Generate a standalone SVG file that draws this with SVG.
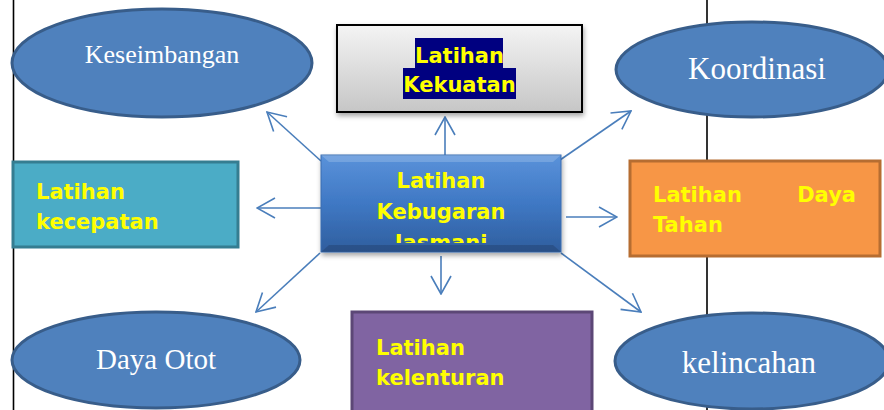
<svg xmlns="http://www.w3.org/2000/svg" width="884" height="410" viewBox="0 0 884 410">
<defs>
<style>
.ell{fill:#4F81BD;stroke:#385D8A;stroke-width:3}
.etx{font-family:"Liberation Serif","Times New Roman",serif;fill:#FFFFFF;text-anchor:middle}
.btx{font-family:"DejaVu Sans",Verdana,sans-serif;font-weight:bold;fill:#FFFF00;font-size:21px}
.con{stroke:#4A7EBB;stroke-width:1.6;fill:none;marker-end:url(#ah)}
.vl{stroke:#000000;stroke-width:1.6}
</style>
<marker id="ah" viewBox="0 0 20 22" refX="19" refY="11" markerWidth="20" markerHeight="22" markerUnits="userSpaceOnUse" orient="auto">
<path d="M1,1 L19,11 L1,21" fill="none" stroke="#4A7EBB" stroke-width="1.6"/>
</marker>
<linearGradient id="gray" x1="0" y1="0" x2="0" y2="1">
<stop offset="0" stop-color="#F4F4F4"/>
<stop offset="1" stop-color="#C6C6C6"/>
</linearGradient>
<linearGradient id="blue" x1="0" y1="0" x2="0" y2="1">
<stop offset="0" stop-color="#5A92DA"/>
<stop offset="0.5" stop-color="#3F78C4"/>
<stop offset="1" stop-color="#2F5E9E"/>
</linearGradient>
<filter id="sh" x="-10%" y="-10%" width="120%" height="130%">
<feDropShadow dx="1" dy="3" stdDeviation="2.5" flood-color="#000000" flood-opacity="0.35"/>
</filter>
<clipPath id="cbox"><rect x="321" y="155" width="240" height="88"/></clipPath>
</defs>
<rect x="0" y="0" width="884" height="410" fill="#FFFFFF"/>
<g id="frame">
<line class="vl" x1="13.5" y1="0" x2="13.5" y2="410"/>
<line class="vl" x1="707" y1="0" x2="707" y2="410"/>
</g>
<g id="connectors">
<line class="con" x1="445" y1="155" x2="445" y2="117"/>
<line class="con" x1="321" y1="161" x2="267" y2="112"/>
<line class="con" x1="321" y1="208" x2="257" y2="208"/>
<line class="con" x1="560" y1="160" x2="631" y2="111"/>
<line class="con" x1="566" y1="217" x2="617" y2="217"/>
<line class="con" x1="320" y1="253" x2="256" y2="312"/>
<line class="con" x1="441" y1="256" x2="441" y2="294"/>
<line class="con" x1="561" y1="253" x2="641" y2="312"/>
</g>
<g id="keseimbangan">
<ellipse class="ell" cx="162" cy="63" rx="150" ry="54"/>
<text class="etx" x="162" y="63" font-size="26">Keseimbangan</text>
</g>
<g id="latihan-kekuatan">
<rect x="337" y="25" width="245" height="87" fill="url(#gray)" stroke="#000000" stroke-width="2" filter="url(#sh)"/>
<rect x="415" y="38" width="88" height="30" fill="#000080"/>
<rect x="403" y="68" width="113" height="31" fill="#000080"/>
<text class="btx" x="459.5" y="63" text-anchor="middle">Latihan</text>
<text class="btx" x="459.5" y="92" text-anchor="middle">Kekuatan</text>
</g>
<g id="koordinasi">
<ellipse class="ell" cx="752" cy="69.5" rx="136" ry="47.5"/>
<text class="etx" x="757" y="79" font-size="31">Koordinasi</text>
</g>
<g id="latihan-kecepatan">
<rect x="13" y="162" width="225" height="85" fill="#4BACC6" stroke="#357D91" stroke-width="3"/>
<text class="btx" x="36" y="199">Latihan</text>
<text class="btx" x="36" y="229">kecepatan</text>
</g>
<g id="latihan-kebugaran-jasmani">
<rect x="321" y="155" width="240" height="97" fill="url(#blue)" stroke="#3A6DB0" stroke-width="1" filter="url(#sh)"/>
<path d="M321,155 L561,155 L553,162 L329,162 Z" fill="#FFFFFF" opacity="0.18"/>
<path d="M321,252 L561,252 L553,245 L329,245 Z" fill="#000000" opacity="0.15"/>
<g clip-path="url(#cbox)">
<text class="btx" x="441" y="188" text-anchor="middle">Latihan</text>
<text class="btx" x="441" y="219" text-anchor="middle" font-size="20.5">Kebugaran</text>
<text class="btx" x="441" y="250" text-anchor="middle">Jasmani</text>
</g>
</g>
<g id="latihan-daya-tahan">
<rect x="630" y="161" width="250" height="95" fill="#F79646" stroke="#B66D31" stroke-width="3"/>
<text class="btx" x="653" y="202">Latihan</text>
<text class="btx" x="856" y="202" text-anchor="end">Daya</text>
<text class="btx" x="653" y="232">Tahan</text>
</g>
<g id="daya-otot">
<ellipse class="ell" cx="156" cy="360" rx="144" ry="48"/>
<text class="etx" x="156" y="369" font-size="29">Daya Otot</text>
</g>
<g id="latihan-kelenturan">
<rect x="352" y="312" width="240" height="110" fill="#8064A2" stroke="#5C4776" stroke-width="3"/>
<text class="btx" x="376" y="355">Latihan</text>
<text class="btx" x="376" y="385">kelenturan</text>
</g>
<g id="kelincahan">
<ellipse class="ell" cx="752" cy="361" rx="137" ry="48"/>
<text class="etx" x="749" y="373" font-size="31">kelincahan</text>
</g>
</svg>
